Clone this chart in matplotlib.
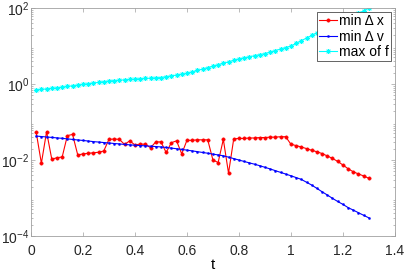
import matplotlib
matplotlib.use('Agg')
import matplotlib.pyplot as plt
from matplotlib.ticker import LogLocator, NullFormatter
import numpy as np

plt.rcParams['font.family'] = ['Liberation Sans', 'DejaVu Sans']
plt.rcParams['mathtext.fontset'] = 'custom'
plt.rcParams['mathtext.rm'] = 'Liberation Sans'

# --- data ---
t = np.round(np.arange(1, 66) * 0.02, 2)

min_dx = [0.054, 0.0082, 0.0556, 0.0105, 0.0115, 0.012, 0.044, 0.047, 0.0135, 0.0145,
          0.015, 0.0155, 0.016, 0.0173, 0.035, 0.0357, 0.035, 0.0257, 0.032, 0.0248,
          0.0263, 0.026, 0.021, 0.030, 0.030, 0.0158, 0.0285, 0.032, 0.0145, 0.033,
          0.033, 0.034, 0.034, 0.034, 0.010, 0.0086, 0.035, 0.0045, 0.036, 0.037,
          0.037, 0.038, 0.038, 0.039, 0.039, 0.040, 0.040, 0.041, 0.041, 0.026,
          0.024, 0.022, 0.020, 0.018, 0.0165, 0.0148, 0.0128, 0.011, 0.0092, 0.0074,
          0.0059, 0.0049, 0.0043, 0.0038, 0.0033]

min_dv = [0.0427, 0.0415, 0.0404, 0.0393, 0.0382, 0.0372, 0.0360, 0.0348, 0.0337, 0.0327,
          0.0316, 0.0305, 0.0297, 0.0288, 0.0281, 0.0272, 0.0265, 0.0257, 0.0251, 0.0245,
          0.0240, 0.0236, 0.0231, 0.0226, 0.0221, 0.0214, 0.0206, 0.0198, 0.0190, 0.0182,
          0.0174, 0.0166, 0.0158, 0.0151, 0.0143, 0.0136, 0.0129, 0.0119, 0.0109, 0.0100,
          0.00916, 0.00841, 0.00776, 0.00708, 0.00643, 0.00582, 0.00525, 0.00473, 0.00427, 0.00385,
          0.00345, 0.00309, 0.00260, 0.00219, 0.00179, 0.00146, 0.00120, 0.00098, 0.00081, 0.00068,
          0.00056, 0.00048, 0.00041, 0.00035, 0.00030]

max_f = [0.700, 0.723, 0.745, 0.769, 0.794, 0.828, 0.863, 0.900, 0.938, 0.977,
         1.019, 1.062, 1.107, 1.153, 1.202, 1.230, 1.259, 1.288, 1.318, 1.349,
         1.374, 1.400, 1.426, 1.452, 1.479, 1.556, 1.637, 1.722, 1.811, 1.905,
         2.080, 2.270, 2.477, 2.704, 2.951, 3.221, 3.516, 3.837, 4.188, 4.571,
         4.875, 5.200, 5.546, 5.916, 6.310, 6.918, 7.586, 8.318, 9.120, 10.0,
         11.75, 13.80, 16.22, 19.05, 22.39, 25.70, 29.51, 33.88, 38.90, 44.67,
         52.48, 61.66, 72.44, 85.11, 100.0]

labels = ['min \u0394 x', 'min \u0394 v', 'max of f']
xticks = [0, 0.2, 0.4, 0.6, 0.8, 1.0, 1.2, 1.4]
xticklabels = ['0', '0.2', '0.4', '0.6', '0.8', '1', '1.2', '1.4']
yticks = [1e-4, 1e-2, 1e0, 1e2]
yticklabels = ['$10^{-4}$', '$10^{-2}$', '$10^{0}$', '$10^{2}$']

# --- figure ---
fig = plt.figure(figsize=(4.05, 2.77), dpi=100)
ax = fig.add_axes([0.0765, 0.148, 0.8985, 0.823])

ax.plot(t, min_dx, '-', color='red', marker='o', markersize=2.4, markeredgewidth=0.4,
        linewidth=0.8, label=labels[0])
ax.plot(t, min_dv, '-', color='blue', marker='o', markersize=1.5, markeredgewidth=0.3,
        linewidth=0.8, label=labels[1])
ax.plot(t, max_f, '-', color='cyan', marker=(8, 2, 0), markersize=3.6, markeredgewidth=0.6,
        linewidth=0.8, label=labels[2])

ax.set_yscale('log')
ax.set_xlim(0, 1.4)
ax.set_ylim(1e-4, 1e2)
ax.set_xticks(xticks)
ax.set_xticklabels(xticklabels)
ax.set_yticks(yticks)
ax.set_yticklabels(yticklabels)
ax.yaxis.set_minor_locator(LogLocator(base=10, subs=np.arange(2, 10), numticks=20))
ax.yaxis.set_minor_formatter(NullFormatter())
ax.set_xlabel('t', fontsize=11, labelpad=0)

axis_col = '#262626'
for s in ax.spines.values():
    s.set_color('#a0a0a0')
    s.set_linewidth(0.6)
ax.tick_params(which='both', direction='in', top=True, right=True, colors='#a0a0a0',
               labelcolor=axis_col, labelsize=10, width=0.5)
ax.tick_params(which='major', length=3)
ax.tick_params(which='minor', length=1.5)
ax.tick_params(axis='x', pad=6)
ax.tick_params(axis='y', pad=1)

leg = ax.legend(loc='upper right', fontsize=10, frameon=True, fancybox=False,
                borderpad=0.15, labelspacing=0.1, handlelength=1.3, handletextpad=0.15,
                borderaxespad=0.3, framealpha=1)
leg.get_frame().set_edgecolor('#262626')
leg.get_frame().set_linewidth(0.5)

fig.savefig('out.png', dpi=100)
